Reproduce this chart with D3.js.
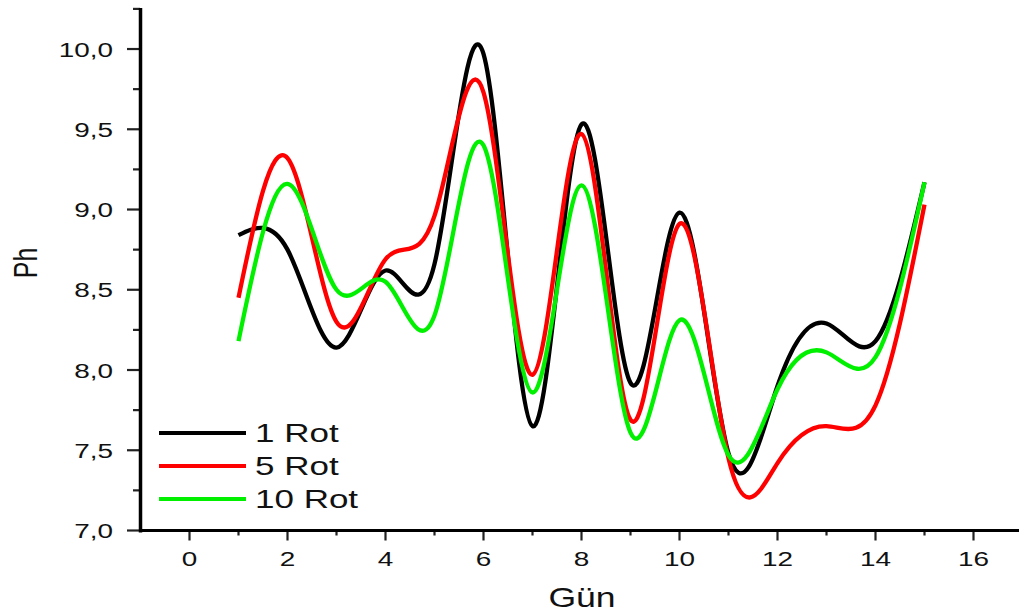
<!DOCTYPE html>
<html>
<head>
<meta charset="utf-8">
<script src="https://cdn.jsdelivr.net/npm/d3@7"></script>
<style>
  body { margin: 0; background: #fff; }
  text { font-family: "Liberation Sans", Arial, sans-serif; fill: #111; }
</style>
</head>
<body>
<div id="my_dataviz"></div>
<script>
var width = 1019,
    height = 614

// data (Gün 1..15)
var days = [1, 2, 3, 4, 5, 6, 7, 8, 9, 10, 11, 12, 13, 14, 15]
var rot1 = [8.84, 8.75, 8.14, 8.62, 8.66, 9.97, 7.65, 9.53, 7.92, 8.98, 7.48, 7.90, 8.29, 8.18, 9.17]
var rot5 = [8.45, 9.32, 8.30, 8.69, 8.96, 9.73, 7.97, 9.47, 7.69, 8.91, 7.45, 7.42, 7.65, 7.78, 9.03]
var rot10 = [8.18, 9.16, 8.50, 8.55, 8.34, 9.40, 7.86, 9.15, 7.61, 8.31, 7.47, 7.88, 8.11, 8.08, 9.17]

var seriesNames = ["1 Rot", "5 Rot", "10 Rot"]
var seriesColors = ["#000000", "#ff0000", "#00f000"]
var seriesValues = [rot1, rot5, rot10]

var xTicks = [0, 2, 4, 6, 8, 10, 12, 14, 16]
var yTicks = [7.0, 7.5, 8.0, 8.5, 9.0, 9.5, 10.0]

var svg = d3.select("#my_dataviz")
  .append("svg")
    .attr("width", width)
    .attr("height", height)

var x = d3.scaleLinear().domain([-1, 17]).range([140.5, 1022.5])
var y = d3.scaleLinear().domain([7, 10.25]).range([530.5, 8.9])

var fmt = function(v) { return d3.format(".1f")(v).replace(".", ",") }

// text helper: the picture is stretched horizontally, so text gets scaleX
function stretchedText(g, px, py, str, size, sx, anchor) {
  return g.append("text")
    .attr("transform", "translate(" + px + "," + py + ") scale(" + sx + ",1)")
    .attr("text-anchor", anchor)
    .style("font-size", size + "px")
    .text(str)
}

// y ticks (major + minor)
var yMinor = d3.range(7.25, 10.26, 0.5)
svg.selectAll("ymajor")
  .data(yTicks)
  .enter()
  .append("line")
    .attr("x1", 127).attr("x2", 140)
    .attr("y1", function(d) { return y(d) })
    .attr("y2", function(d) { return y(d) })
    .attr("stroke", "#222").attr("stroke-width", 2.2)
svg.selectAll("yminor")
  .data(yMinor)
  .enter()
  .append("line")
    .attr("x1", 133).attr("x2", 140)
    .attr("y1", function(d) { return y(d) })
    .attr("y2", function(d) { return y(d) })
    .attr("stroke", "#222").attr("stroke-width", 2.2)
yTicks.forEach(function(d) {
  stretchedText(svg, 113, y(d) + 7.5, fmt(d), 21, 1.33, "end")
})

// x ticks (major + minor)
var xMinor = d3.range(1, 17, 2)
svg.selectAll("xmajor")
  .data(xTicks)
  .enter()
  .append("line")
    .attr("x1", function(d) { return x(d) })
    .attr("x2", function(d) { return x(d) })
    .attr("y1", 531).attr("y2", 540.5)
    .attr("stroke", "#222").attr("stroke-width", 2.2)
svg.selectAll("xminor")
  .data(xMinor)
  .enter()
  .append("line")
    .attr("x1", function(d) { return x(d) })
    .attr("x2", function(d) { return x(d) })
    .attr("y1", 531).attr("y2", 535.5)
    .attr("stroke", "#222").attr("stroke-width", 2.2)
xTicks.forEach(function(d) {
  stretchedText(svg, x(d), 565.5, String(d), 21, 1.33, "middle")
})

// axis lines
svg.append("line")
  .attr("x1", 140.5).attr("x2", 140.5)
  .attr("y1", 8).attr("y2", 532.5)
  .attr("stroke", "#000").attr("stroke-width", 3.5)
svg.append("line")
  .attr("x1", 139).attr("x2", width)
  .attr("y1", 530.5).attr("y2", 530.5)
  .attr("stroke", "#000").attr("stroke-width", 3)

// axis titles
stretchedText(svg, 582, 607, "Gün", 28, 1.27, "middle")
svg.append("text")
  .attr("transform", "translate(37,263) rotate(-90) scale(1,1.3)")
  .attr("text-anchor", "middle")
  .style("font-size", "25px")
  .text("Ph")

// spline lines
var line = d3.line()
  .x(function(d) { return x(d[0]) })
  .y(function(d) { return y(d[1]) })
  .curve(d3.curveNatural)

seriesValues.forEach(function(vals, i) {
  svg.append("path")
    .datum(days.map(function(d, j) { return [d, vals[j]] }))
    .attr("d", line)
    .attr("fill", "none")
    .attr("stroke", seriesColors[i])
    .attr("stroke-width", 4.3)
    .attr("stroke-linejoin", "round")
})

// legend
seriesNames.forEach(function(name, i) {
  var ly = 433 + i * 33
  svg.append("line")
    .attr("x1", 159).attr("x2", 246)
    .attr("y1", ly).attr("y2", ly)
    .attr("stroke", seriesColors[i])
    .attr("stroke-width", 4)
  stretchedText(svg, 255, ly + 9, name, 25, 1.4, "start")
})
</script>
</body>
</html>
